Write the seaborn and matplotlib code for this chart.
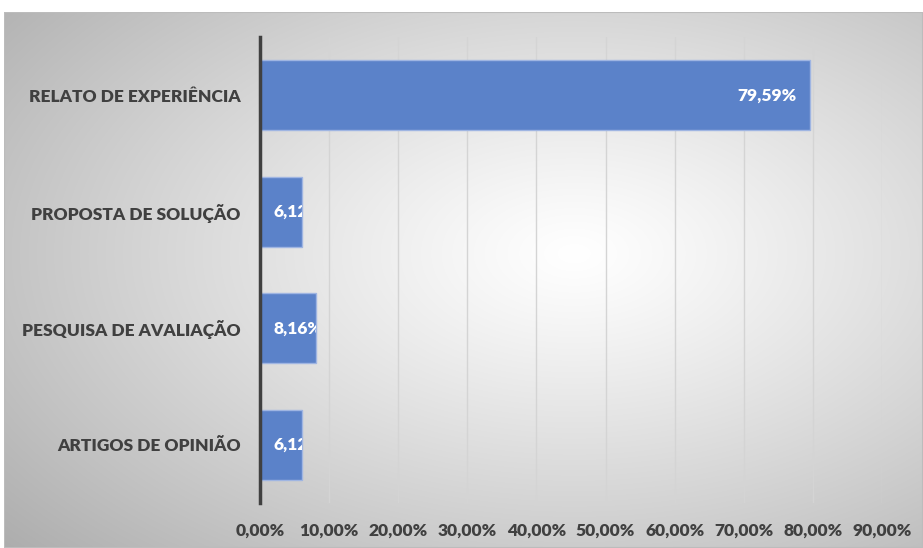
import numpy as np
import seaborn as sns
import matplotlib.pyplot as plt
from matplotlib.patches import Rectangle

# dados
categorias = ['RELATO DE EXPERIÊNCIA', 'PROPOSTA DE SOLUÇÃO',
              'PESQUISA DE AVALIAÇÃO', 'ARTIGOS DE OPINIÃO']
valores = [79.59, 6.12, 8.16, 6.12]
rotulos = ['79,59%', '6,12%', '8,16%', '6,12%']
ticks = list(range(0, 91, 10))
tick_labels = [f'{t:.2f}%'.replace('.', ',') for t in ticks]

COR_BARRA = '#5B82C9'
COR_TEXTO = '#404040'
PESO = 'heavy'

sns.set_theme(style='white')
plt.rcParams['font.family'] = ['Lato', 'DejaVu Sans']

W, H = 923, 548
fig = plt.figure(figsize=(W / 100, H / 100), dpi=100)
fig.patch.set_facecolor('white')

# fundo com gradiente radial (cinza nas bordas, branco no centro)
bg = fig.add_axes([4 / W, 0, (W - 4) / W, (H - 12) / H], zorder=-10)
h, w = H - 12, W - 4
yy, xx = np.mgrid[0:h, 0:w]
r = np.sqrt(((xx - 0.62 * w) / w) ** 2 + ((yy - 0.45 * h) / h) ** 2)
g = np.clip(1.0 - 0.40 * r ** 1.15, 0, 1)
bg.imshow(np.dstack([g, g, g]), aspect='auto', extent=[0, 1, 0, 1])
bg.add_patch(Rectangle((0, 0), 1, 1, transform=bg.transAxes, fill=False,
                       edgecolor='#bcbcbc', lw=1.5))
bg.set_axis_off()

# gráfico
ax = fig.add_axes([260 / W, (H - 503) / H, 622 / W, 466 / H])
ax.patch.set_alpha(0)
sns.barplot(x=valores, y=categorias, orient='h', color=COR_BARRA,
            saturation=1, width=0.6, edgecolor='#9fb5e2', linewidth=1,
            ax=ax, zorder=3)

ax.set_xlim(0, 90)
ax.set_xticks(ticks)
ax.set_xticklabels(tick_labels, fontsize=12.5, fontweight=PESO, color=COR_TEXTO)
ax.tick_params(axis='x', length=0, pad=14)
ax.tick_params(axis='y', length=0, pad=14, labelsize=12.5, labelcolor=COR_TEXTO)
for t in ax.get_yticklabels():
    t.set_fontweight(PESO)
ax.set_xlabel('')
ax.set_ylabel('')
ax.grid(axis='x', color='#d4d4d4', lw=1, zorder=0)
ax.grid(axis='y', visible=False)
ax.set_axisbelow(True)

for s in ['top', 'right', 'bottom']:
    ax.spines[s].set_visible(False)
ax.spines['left'].set_color(COR_TEXTO)
ax.spines['left'].set_linewidth(2.5)
ax.spines['left'].set_zorder(5)

# rótulos dentro das barras (cortados no fim da barra, como no Excel)
for patch, lab in zip(ax.patches, rotulos):
    x0, wd = patch.get_x(), patch.get_width()
    yc = patch.get_y() + patch.get_height() / 2
    if wd > 20:
        txt = ax.annotate(lab, (x0 + wd, yc), xytext=(-13, 0), textcoords='offset pixels',
                          ha='right', va='center', color='white',
                          fontsize=12.5, fontweight=PESO, zorder=4)
    else:
        txt = ax.annotate(lab, (x0, yc), xytext=(14, 0), textcoords='offset pixels',
                          ha='left', va='center', color='white',
                          fontsize=12.5, fontweight=PESO, zorder=4)
    txt.set_clip_path(patch)

fig.savefig('out.png', dpi=100)
